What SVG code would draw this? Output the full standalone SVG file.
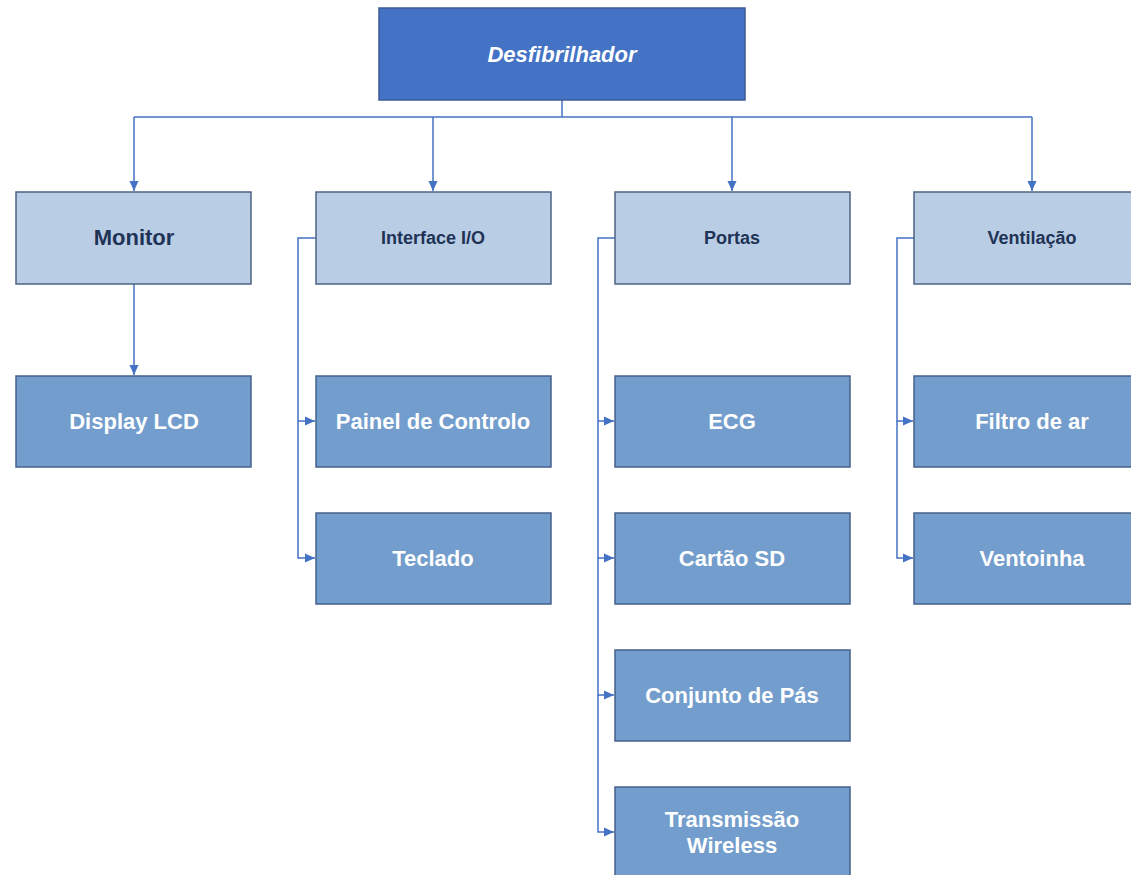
<svg xmlns="http://www.w3.org/2000/svg" width="1131" height="875" viewBox="0 0 1131 875">
  <style>
    .root rect { fill: #4472c4; stroke: #3b5b94; stroke-width: 1.5; }
    .cat rect { fill: #b9cde5; stroke: #4e6384; stroke-width: 1.5; }
    .item rect { fill: #729dcc; stroke: #46618a; stroke-width: 1.5; }
    text { font-family: "Liberation Sans", Arial, sans-serif; font-weight: bold; text-anchor: middle; }
    .root text { fill: #ffffff; font-size: 22px; font-style: italic; }
    .cat text { fill: #1f3356; font-size: 18px; }
    .cat text.big { font-size: 22px; }
    .item text { fill: #ffffff; font-size: 22px; }
    .links path { fill: none; stroke: #4472c4; stroke-width: 1.5; }
  </style>
  <defs>
    <marker id="arrow" markerUnits="userSpaceOnUse" markerWidth="10" markerHeight="10" refX="10" refY="5" orient="auto">
      <path d="M0,0.5 L10,5 L0,9.5 z" fill="#4472c4"/>
    </marker>
  </defs>
  <rect width="1131" height="875" fill="#ffffff"/>

  <!-- connectors -->
  <g class="links">
    <path d="M562,100 V117"/>
    <path d="M134,117 H1032"/>
    <path d="M134,117 V191" marker-end="url(#arrow)"/>
    <path d="M433,117 V191" marker-end="url(#arrow)"/>
    <path d="M732,117 V191" marker-end="url(#arrow)"/>
    <path d="M1032,117 V191" marker-end="url(#arrow)"/>
    <path d="M134,284 V375" marker-end="url(#arrow)"/>
    <!-- Interface I/O branches -->
    <path d="M316,238 H298 V421 H315" marker-end="url(#arrow)"/>
    <path d="M298,421 V558 H315" marker-end="url(#arrow)"/>
    <!-- Portas branches -->
    <path d="M615,238 H598 V421 H614" marker-end="url(#arrow)"/>
    <path d="M598,421 V558 H614" marker-end="url(#arrow)"/>
    <path d="M598,558 V695 H614" marker-end="url(#arrow)"/>
    <path d="M598,695 V832 H614" marker-end="url(#arrow)"/>
    <!-- Ventilação branches -->
    <path d="M914,238 H897 V421 H913" marker-end="url(#arrow)"/>
    <path d="M897,421 V558 H913" marker-end="url(#arrow)"/>
  </g>

  <!-- root -->
  <g id="desfibrilhador" class="root">
    <rect x="379" y="8" width="366" height="92"/>
    <text x="562" y="62">Desfibrilhador</text>
  </g>

  <!-- categories -->
  <g id="monitor" class="cat">
    <rect x="16" y="192" width="235" height="92"/>
    <text class="big" x="134" y="245">Monitor</text>
  </g>
  <g id="interface-io" class="cat">
    <rect x="316" y="192" width="235" height="92"/>
    <text x="433" y="244">Interface I/O</text>
  </g>
  <g id="portas" class="cat">
    <rect x="615" y="192" width="235" height="92"/>
    <text x="732" y="244">Portas</text>
  </g>
  <g id="ventilacao" class="cat">
    <rect x="914" y="192" width="235" height="92"/>
    <text x="1032" y="244">Ventilação</text>
  </g>

  <!-- items -->
  <g id="display-lcd" class="item">
    <rect x="16" y="376" width="235" height="91"/>
    <text x="134" y="429">Display LCD</text>
  </g>
  <g id="painel-controlo" class="item">
    <rect x="316" y="376" width="235" height="91"/>
    <text x="433" y="429">Painel de Controlo</text>
  </g>
  <g id="teclado" class="item">
    <rect x="316" y="513" width="235" height="91"/>
    <text x="433" y="566">Teclado</text>
  </g>
  <g id="ecg" class="item">
    <rect x="615" y="376" width="235" height="91"/>
    <text x="732" y="429">ECG</text>
  </g>
  <g id="cartao-sd" class="item">
    <rect x="615" y="513" width="235" height="91"/>
    <text x="732" y="566">Cartão SD</text>
  </g>
  <g id="conjunto-pas" class="item">
    <rect x="615" y="650" width="235" height="91"/>
    <text x="732" y="703">Conjunto de Pás</text>
  </g>
  <g id="transmissao-wireless" class="item">
    <rect x="615" y="787" width="235" height="91"/>
    <text x="732" y="827">Transmissão</text>
    <text x="732" y="853">Wireless</text>
  </g>
  <g id="filtro-ar" class="item">
    <rect x="914" y="376" width="235" height="91"/>
    <text x="1032" y="429">Filtro de ar</text>
  </g>
  <g id="ventoinha" class="item">
    <rect x="914" y="513" width="235" height="91"/>
    <text x="1032" y="566">Ventoinha</text>
  </g>
</svg>
